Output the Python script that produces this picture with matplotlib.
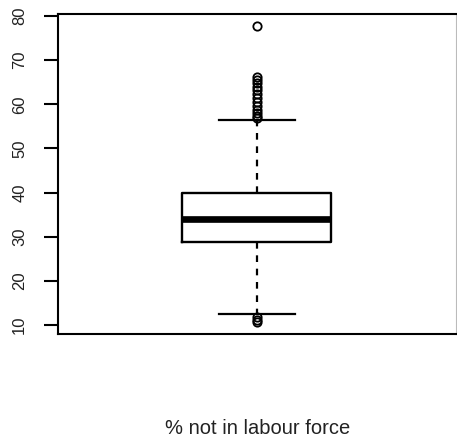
import matplotlib
matplotlib.use("Agg")
import matplotlib.pyplot as plt

plt.rcParams['font.family'] = ['Liberation Sans', 'DejaVu Sans']

# box statistics
label = "% not in labour force"
q1, med, q3 = 28.8, 34.1, 40.0
whisker_lo, whisker_hi = 12.5, 56.4
outliers_hi = [77.8, 66.2, 65.6, 64.8, 63.9, 63.2, 62.4, 61.4, 60.5,
               59.7, 58.7, 58.0, 57.3, 56.9]
outliers_lo = [11.8, 11.2, 10.6]
yticks = [10, 20, 30, 40, 50, 60, 70, 80]

fig = plt.figure(figsize=(4.57, 4.43), dpi=100)
ax = fig.add_axes([0.1263, 0.246, 0.872, 0.7224])

stats = [dict(med=med, q1=q1, q3=q3, whislo=whisker_lo, whishi=whisker_hi,
              fliers=outliers_hi + outliers_lo, label="")]
ax.bxp(stats, positions=[1], widths=0.374, capwidths=0.19,
       boxprops=dict(color='black', linewidth=1.7),
       medianprops=dict(color='black', linewidth=4.8, solid_capstyle='butt'),
       whiskerprops=dict(color='black', linewidth=1.6, linestyle=(0, (3, 3))),
       capprops=dict(color='black', linewidth=1.6),
       flierprops=dict(marker='o', markerfacecolor='none', markeredgecolor='black',
                       markersize=6, markeredgewidth=1.3))

ax.set_xlim(0.5, 1.5)
ax.set_ylim(7.96, 80.45)
ax.set_xticks([])
ax.set_yticks(yticks)
ax.set_yticklabels([str(t) for t in yticks], rotation=90, va='center',
                   fontsize=12, color='#222222')
ax.tick_params(axis='y', length=10, width=1.5, pad=12)
for s in ax.spines.values():
    s.set_linewidth(1.5)
ax.spines['right'].set_linewidth(0.8)
ax.spines['right'].set_color('#bbbbbb')

fig.text(0.563, 0.032, label, ha='center', va='center', fontsize=14.5,
         color='#222222')

fig.savefig("out.png", dpi=100)
